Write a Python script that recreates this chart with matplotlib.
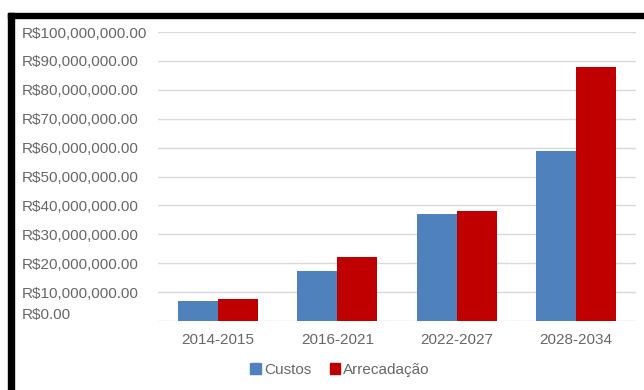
import matplotlib
matplotlib.use("Agg")
import matplotlib.pyplot as plt
import matplotlib.transforms as mtransforms
from matplotlib.patches import Rectangle
import numpy as np

periodos = ['2014-2015', '2016-2021', '2022-2027', '2028-2034']
custos = [6.9e6, 17.4e6, 37.0e6, 58.7e6]
arrecadacao = [7.6e6, 22.2e6, 38.2e6, 88.0e6]
serie_nomes = ['Custos', 'Arrecadação']
y_ticks = np.arange(0, 100e6 + 1, 10e6)

plt.rcParams['font.family'] = ['Liberation Sans', 'DejaVu Sans']
texto_cor = '#676767'
azul = '#4f81bd'
vermelho = '#c00000'

W, H = 644, 390
fig = plt.figure(figsize=(W / 100, H / 100), dpi=100)
fig.patch.set_facecolor('white')

ax = fig.add_axes([158 / W, (H - 321) / H, (636 - 158) / W, (321 - 32) / H])
x = np.arange(len(periodos))
bw = 0.335
ax.bar(x - bw / 2, custos, width=bw, color=azul, zorder=3)
ax.bar(x + bw / 2, arrecadacao, width=bw, color=vermelho, zorder=3)

ax.set_xlim(-0.5, len(periodos) - 0.5)
ax.set_ylim(0, 100e6)
ax.set_yticks(y_ticks)
ax.set_yticklabels([f'R${v:,.2f}' for v in y_ticks], ha='left')
ax.set_xticks(x)
ax.set_xticklabels(periodos)
ax.grid(axis='y', color='#d9d9d9', linewidth=1, zorder=0)
for s in ax.spines.values():
    s.set_visible(False)
ax.tick_params(axis='both', length=0, labelsize=11, labelcolor=texto_cor)
# rótulos do eixo y alinhados à esquerda em x ~ 22 px
ax.tick_params(axis='y', pad=(158 - 22) * 72 / 100)
ax.tick_params(axis='x', pad=9)

# rótulo R$0.00 fica um pouco acima da linha
lbl0 = ax.get_yticklabels()[0]
lbl0.set_transform(lbl0.get_transform() + mtransforms.ScaledTranslation(0, 8 / 100, fig.dpi_scale_trans))

handles = [Rectangle((0, 0), 1, 1, color=azul), Rectangle((0, 0), 1, 1, color=vermelho)]
fig.legend(handles, serie_nomes, loc='center', bbox_to_anchor=(340 / W, (H - 370) / H),
           ncol=2, frameon=False, fontsize=11, labelcolor=texto_cor,
           handlelength=0.7, handleheight=0.7, handletextpad=0.2, columnspacing=1.2)

# moldura preta (topo e esquerda)
fig.patches.append(Rectangle((8 / W, 0), 6 / W, (H - 13) / H, transform=fig.transFigure,
                             color='black', zorder=10))
fig.patches.append(Rectangle((8 / W, (H - 18) / H), (W - 8) / W, 5 / H, transform=fig.transFigure,
                             color='black', zorder=10))

fig.savefig('out.png', dpi=100, facecolor='white')
